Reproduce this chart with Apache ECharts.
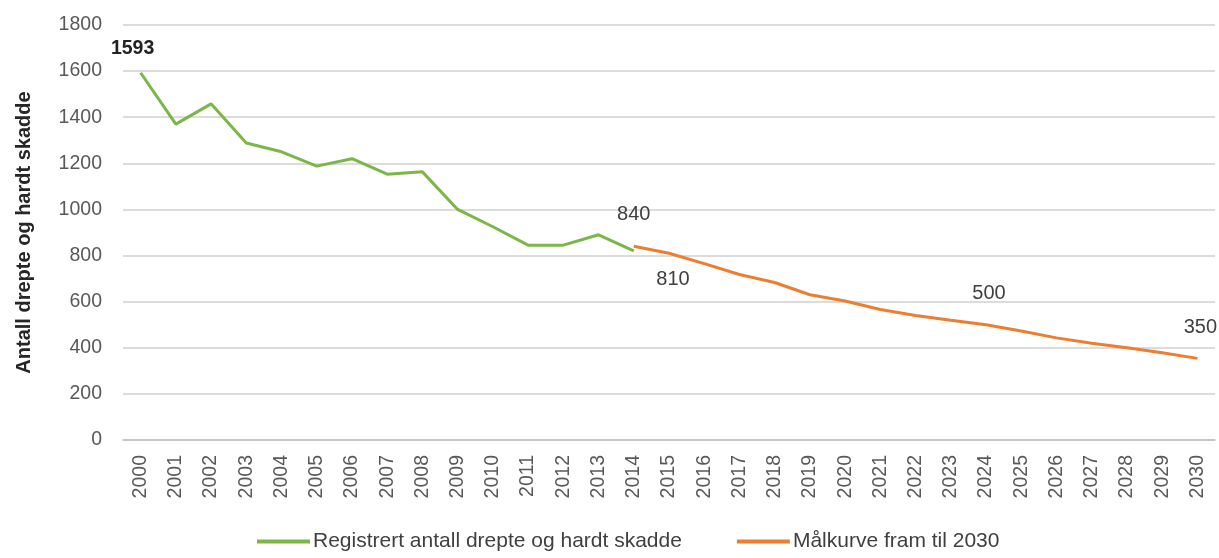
<!DOCTYPE html>
<html><head><meta charset="utf-8">
<script src="https://cdn.jsdelivr.net/npm/echarts@6/dist/echarts.min.js"></script>
<style>html,body{margin:0;padding:0;background:#fff}#c{width:1219px;height:558px}</style>
</head><body><div id="c"></div>
<script>
const years = ['2000','2001','2002','2003','2004','2005','2006','2007','2008','2009','2010','2011','2012','2013','2014','2015','2016','2017','2018','2019','2020','2021','2022','2023','2024','2025','2026','2027','2028','2029','2030'];
const registrert = [1593,1370,1458,1288,1250,1188,1220,1153,1163,1000,925,845,845,890,820];
const malkurve = [840,810,765,718,683,630,603,566,540,519,500,473,443,420,400,378,354];
const malStartIndex = 14;
const seriesNames = ['Registrert antall drepte og hardt skadde','Målkurve fram til 2030'];
const labelTexts = {green:{0:'1593'}, orange:{0:'840',1:'810',10:'500',16:'350'}};
const greenLabelStyle = {0:{offset:[-8,-24],bold:true}};
const orangeLabelStyle = {0:{offset:[0,-32]},1:{offset:[4,26]},10:{offset:[3,-31]},16:{offset:[3,-31]}};

const FONT = 'Liberation Sans, Arial, sans-serif';
function mkLabel(text, st){
  return {show:true,position:'inside',offset:st.offset,fontFamily:FONT,
    fontWeight:st.bold?'bold':'normal',color:st.bold?'#222':'#404040',fontSize:st.bold?19.5:20,formatter:text};
}
const greenData = years.map((y,i)=>{
  const v = i < registrert.length ? registrert[i] : null;
  if (v!==null && labelTexts.green[i]) return {value:v,label:mkLabel(labelTexts.green[i],greenLabelStyle[i])};
  return v;
});
const orangeData = years.map((y,i)=>{
  const k = i - malStartIndex;
  const v = (k>=0 && k<malkurve.length) ? malkurve[k] : null;
  if (v!==null && labelTexts.orange[k]) return {value:v,label:mkLabel(labelTexts.orange[k],orangeLabelStyle[k])};
  return v;
});

const chart = echarts.init(document.getElementById('c'));
chart.setOption({
  animation:false,
  textStyle:{fontFamily:FONT},
  grid:{left:123,right:4,top:25,bottom:118},
  legend:{bottom:1,left:252,itemWidth:53,itemHeight:4,itemGap:55,icon:'rect',
    textStyle:{fontSize:21,color:'#404040',fontFamily:FONT,padding:[0,0,0,-2]},
    data:seriesNames},
  xAxis:{type:'category',data:years,boundaryGap:true,
    axisLine:{lineStyle:{color:'#bfbfbf',width:1.5}},axisTick:{show:false},
    axisLabel:{rotate:90,fontSize:19.5,color:'#595959',margin:15,interval:0}},
  yAxis:{type:'value',min:0,max:1800,interval:200,
    name:'Antall drepte og hardt skadde',nameLocation:'middle',nameGap:89,nameRotate:90,
    nameTextStyle:{fontSize:20,fontWeight:'bold',color:'#262626'},
    axisLine:{show:false},axisTick:{show:false},
    axisLabel:{fontSize:19.5,color:'#595959',margin:21,formatter:v=>String(v)},
    splitLine:{lineStyle:{color:'#d0d0d0',width:1.5}}},
  series:[
    {name:seriesNames[0],type:'line',data:greenData,showSymbol:true,symbol:'circle',symbolSize:0,
      lineStyle:{color:'#7ab648',width:3},itemStyle:{color:'#7ab648'},connectNulls:false},
    {name:seriesNames[1],type:'line',data:orangeData,showSymbol:true,symbol:'circle',symbolSize:0,
      lineStyle:{color:'#ed7d31',width:3},itemStyle:{color:'#ed7d31'},connectNulls:false}
  ]
});
</script></body></html>
